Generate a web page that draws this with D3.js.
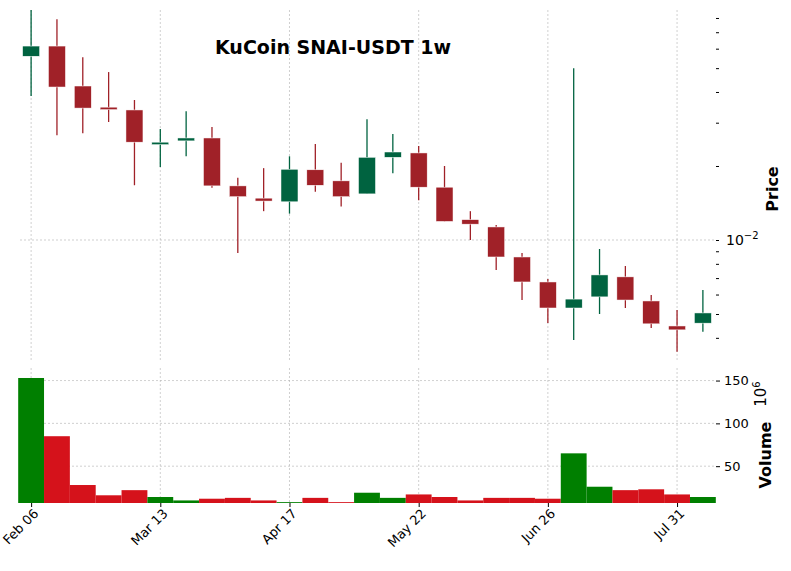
<!DOCTYPE html><html><head><meta charset="utf-8"><script src="https://cdn.jsdelivr.net/npm/d3@7"></script>
<style>body{margin:0;background:#fff}text{font-family:"DejaVu Sans",sans-serif}</style></head><body><svg id="c" width="791" height="571"></svg>
<script>
const weeks = d3.range(27).map(i => new Date(2023, 1, 6 + 7 * i));
const open  = [0.0559,0.0615,0.0423,0.0347,0.0338,0.0248,0.0253,0.0260,0.0166,0.0148,0.0143,0.0193,0.0174,0.0154,0.0217,0.0226,0.0164,0.0121,0.0113,0.00853,0.00675,0.00529,0.00587,0.00708,0.00565,0.00447,0.00459];
const close = [0.0615,0.0419,0.0344,0.0341,0.0250,0.0250,0.0260,0.0166,0.0150,0.0144,0.0194,0.0167,0.0150,0.0217,0.0228,0.0164,0.0119,0.0116,0.00853,0.00675,0.00529,0.00575,0.00721,0.00570,0.00456,0.00431,0.00505];
const high  = [0.0861,0.0791,0.0554,0.0482,0.0371,0.0283,0.0334,0.0288,0.0179,0.0196,0.0219,0.0246,0.0206,0.0310,0.0270,0.0241,0.0200,0.0131,0.0115,0.00885,0.00694,0.0500,0.00919,0.00784,0.00597,0.00519,0.00626];
const low   = [0.0385,0.0267,0.0272,0.0302,0.0167,0.0198,0.0219,0.0163,0.00885,0.0131,0.0128,0.0157,0.0137,0.0154,0.0187,0.0145,0.0119,0.0100,0.00755,0.00570,0.00460,0.00392,0.00500,0.00529,0.00439,0.00351,0.00423];
const volume = [153,85,28,16,22,14,10,12,13,10,8,13,8,19,13,17,14,10,13,13,12,65,26,22,23,17,14];
const xTickIdx = [0,5,10,15,20,25];
const volTicks = [50,100,150];
const fmt = d3.timeFormat("%b %d");

const svg = d3.select("#c");
const L=20, R=714;
const x = d3.scaleLinear().domain([-0.43, 26.43]).range([L, R]);
const y = d3.scaleLog().domain([0.00319, 0.0862]).range([362, 10]);
const yv = d3.scaleLinear().domain([7, 160]).range([503, 372]);
const grid = "#b0b0b0";
xTickIdx.forEach(i => {
  svg.append("line").attr("x1",x(i)).attr("x2",x(i)).attr("y1",10).attr("y2",362).attr("stroke",grid).attr("stroke-width",0.6).attr("stroke-dasharray","2,2");
  svg.append("line").attr("x1",x(i)).attr("x2",x(i)).attr("y1",368).attr("y2",503).attr("stroke",grid).attr("stroke-width",0.6).attr("stroke-dasharray","2,2");
});
svg.append("line").attr("x1",L).attr("x2",R).attr("y1",y(0.01)).attr("y2",y(0.01)).attr("stroke",grid).attr("stroke-width",0.6).attr("stroke-dasharray","2,2");
volTicks.forEach(v => svg.append("line").attr("x1",L).attr("x2",R).attr("y1",yv(v)).attr("y2",yv(v)).attr("stroke",grid).attr("stroke-width",0.6).attr("stroke-dasharray","2,2"));

const up = "#006340", dn = "#a02128";
const cw = 17;
d3.range(27).forEach(i => {
  const c = close[i] >= open[i] ? up : dn;
  svg.append("line").attr("x1",x(i)).attr("x2",x(i)).attr("y1",y(high[i])).attr("y2",y(low[i])).attr("stroke",c).attr("stroke-width",1.3);
  const t = y(Math.max(open[i],close[i])), b = y(Math.min(open[i],close[i]));
  svg.append("rect").attr("x",x(i)-cw/2).attr("width",cw).attr("y",t).attr("height",Math.max(b-t,2.5)).attr("fill",c).attr("stroke","#fff").attr("stroke-width",0.5);
  const vc = close[i] >= open[i] ? "#007f00" : "#d5121b";
  const w = x(1)-x(0);
  svg.append("rect").attr("x",x(i)-w/2).attr("width",w).attr("y",yv(volume[i])).attr("height",503-yv(volume[i])).attr("fill",vc);
});

const pax = d3.axisRight(y).tickValues([0.004,0.005,0.006,0.007,0.008,0.009,0.01,0.02,0.03,0.04,0.05,0.06,0.07,0.08]).tickSize(3).tickFormat("");
const pg = svg.append("g").attr("transform",`translate(${R+2},0)`).call(pax);
pg.select(".domain").remove();
pg.append("text").attr("x",10).attr("y",y(0.01)+5).attr("fill","#000").attr("font-size",14).attr("text-anchor","start").html('10<tspan dy="-6" font-size="10">−2</tspan>');
svg.append("text").attr("transform","translate(778,189) rotate(-90)").attr("text-anchor","middle").attr("font-size",16).attr("font-weight","bold").text("Price");
const vax = d3.axisRight(yv).tickValues(volTicks).tickSize(4);
const vg = svg.append("g").attr("transform",`translate(${R+2},0)`).call(vax);
vg.select(".domain").remove();
vg.selectAll("text").attr("font-size",13).attr("x",8);
svg.append("text").attr("transform","translate(771,455) rotate(-90)").attr("text-anchor","middle").attr("font-size",16).attr("font-weight","bold").text("Volume");
svg.append("text").attr("transform","translate(766,394) rotate(-90)").attr("text-anchor","middle").attr("font-size",15).html('10<tspan dy="-6" font-size="10">6</tspan>');
const xax = d3.axisBottom(x).tickValues(xTickIdx).tickSize(4).tickFormat(i => fmt(weeks[i]));
const xg = svg.append("g").attr("transform","translate(0,503)").call(xax);
xg.select(".domain").remove();
xg.selectAll("text").attr("font-size",13).attr("text-anchor","end").attr("transform","rotate(-45)").attr("dx","-0.2em").attr("dy","0.5em");
svg.append("text").attr("x",333).attr("y",54).attr("text-anchor","middle").attr("font-size",19).attr("font-weight","bold").text("KuCoin SNAI-USDT 1w");
</script></body></html>
